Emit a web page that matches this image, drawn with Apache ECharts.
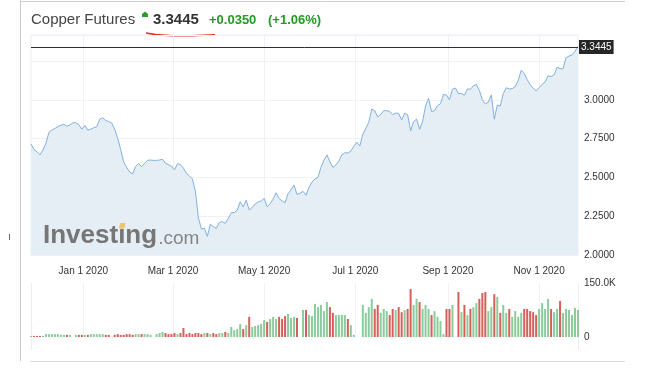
<!DOCTYPE html>
<html><head><meta charset="utf-8">
<script src="https://cdn.jsdelivr.net/npm/echarts@6/dist/echarts.min.js"></script>
<style>html,body{margin:0;padding:0;background:#fff}#c{width:659px;height:373px}</style>
</head><body><div id="c"></div>
<script>
const titleText = 'Copper Futures';
const lastPriceText = '3.3445';
const changeText = '+0.0350';
const changePctText = '(+1.06%)';
const watermarkMain = 'Investing';
const watermarkSub = '.com';
const startDate = '2019-11-27';
const endDate = '2020-11-27';
const sampleStepDays = 2;
const labelDates = ['2020-01-01','2020-03-01','2020-05-01','2020-07-01','2020-09-01','2020-11-01'];
const priceTickLabels = [2.0, 2.25, 2.5, 2.75, 3.0];
const volumeTickLabels = [0, 150000];
const lastPrice = 3.3445;

const priceValues = [
 2.715,2.68,2.666,2.645,2.677,2.72,2.79,2.805,2.815,2.828,
 2.836,2.842,2.83,2.838,2.852,2.852,2.84,2.81,2.835,2.805,
 2.81,2.82,2.827,2.875,2.884,2.867,2.86,2.85,2.81,2.752,
 2.68,2.6,2.565,2.535,2.522,2.57,2.59,2.569,2.59,2.61,
 2.612,2.609,2.61,2.612,2.617,2.591,2.582,2.572,2.548,2.588,
 2.582,2.56,2.525,2.51,2.49,2.41,2.24,2.168,2.172,2.12,
 2.198,2.182,2.172,2.21,2.215,2.204,2.235,2.273,2.273,2.29,
 2.343,2.31,2.354,2.29,2.307,2.329,2.342,2.348,2.365,2.311,
 2.33,2.36,2.401,2.365,2.348,2.337,2.395,2.42,2.45,2.39,
 2.398,2.41,2.385,2.435,2.47,2.49,2.5,2.565,2.61,2.645,
 2.601,2.565,2.58,2.605,2.645,2.659,2.657,2.67,2.7,2.727,
 2.702,2.776,2.815,2.855,2.94,2.93,2.89,2.906,2.93,2.93,
 2.925,2.905,2.914,2.912,2.87,2.913,2.905,2.80,2.859,2.876,
 2.81,2.86,2.96,3.01,2.925,2.93,2.962,2.975,3.035,3.03,
 3.0,3.068,3.076,3.04,3.04,3.03,3.07,3.068,3.09,3.1,
 3.06,3.0,2.973,2.985,3.032,2.875,2.966,2.96,3.04,3.078,
 3.07,3.072,3.085,3.125,3.19,3.17,3.13,3.097,3.075,3.057,
 3.078,3.1,3.115,3.155,3.15,3.16,3.21,3.2,3.2,3.27,
 3.282,3.29,3.312,3.3445
];

const volumeK = [
 3,3,3,3,3,8,8,8,8,8,
 6,6,6,6,0,6,6,6,6,6,
 8,8,8,8,8,6,6,0,6,8,
 6,6,8,8,6,8,8,8,8,8,
 6,0,8,11,14,11,8,8,11,8,
 11,25,8,11,8,11,11,8,11,11,
 8,11,8,11,11,14,11,28,19,22,
 36,22,33,56,28,31,33,36,47,42,
 50,56,50,56,50,58,64,53,56,53,
 0,75,75,61,58,92,83,89,72,97,
 83,67,61,61,61,61,50,33,6,0,
 0,89,67,83,106,78,89,67,78,72,
 61,78,75,83,69,75,78,133,89,106,
 97,78,89,78,61,72,56,44,8,78,
 78,89,0,125,69,89,61,78,83,94,
 106,122,125,72,83,119,111,67,89,67,
 78,56,72,56,67,78,78,72,69,61,
 78,94,78,106,78,69,78,100,67,78,
 75,61,81,75
];

const FONT = '"Liberation Sans", Arial, sans-serif';
const UP = '#8ccb9b', DOWN = '#d65f5a';
const MONTHS = ['Jan','Feb','Mar','Apr','May','Jun','Jul','Aug','Sep','Oct','Nov','Dec'];

const categories = [];
for (let t = Date.parse(startDate + 'T00:00:00Z'); t <= Date.parse(endDate + 'T00:00:00Z'); t += 86400000) {
  categories.push(new Date(t).toISOString().slice(0, 10));
}
const isLabelDay = (idx, val) => labelDates.indexOf(val) >= 0;
const fmtDate = (val) => {
  const p = val.split('-');
  return MONTHS[+p[1] - 1] + ' ' + (+p[2]) + ' ' + p[0];
};

const priceData = priceValues.map((v, i) => [i * sampleStepDays, v]);
const volumeData = volumeK.map((v, i) => ({
  value: [i * sampleStepDays, v * 1000],
  itemStyle: { color: (i === 0 || priceValues[i] >= priceValues[i - 1]) ? UP : DOWN }
}));

// watermark text metrics
const wmFontMain = 'bold 26px ' + FONT, wmFontSub = '19px ' + FONT;
const mctx = document.createElement('canvas').getContext('2d');
mctx.font = wmFontMain;
const wmX = 43;
const wmMainW = mctx.measureText(watermarkMain).width;
const wmIX = wmX + mctx.measureText('Invest').width + mctx.measureText('i').width / 2;

const chart = echarts.init(document.getElementById('c'), null, { renderer: 'canvas' });
const gridLine = '#eff1f4';
chart.setOption({
  animation: false,
  backgroundColor: '#fff',
  grid: [
    { left: 31, right: 81, top: 35, height: 220, show: true, borderColor: '#e9edf2', borderWidth: 1 },
    { left: 31, right: 81, top: 283, height: 54 }
  ],
  xAxis: [
    { type: 'category', gridIndex: 0, data: categories, boundaryGap: false,
      axisLine: { show: false }, axisTick: { show: false },
      axisLabel: { interval: isLabelDay, formatter: fmtDate, color: '#333', fontSize: 10, fontFamily: FONT, margin: 11 },
      splitLine: { show: true, interval: isLabelDay, lineStyle: { color: gridLine } } },
    { type: 'category', gridIndex: 1, data: categories, boundaryGap: false,
      axisLine: { show: false }, axisTick: { show: false }, axisLabel: { show: false },
      splitLine: { show: true, interval: isLabelDay, lineStyle: { color: gridLine } } }
  ],
  yAxis: [
    { type: 'value', gridIndex: 0, position: 'right', min: 2, max: 3.4175, interval: 0.25,
      axisLine: { show: false }, axisTick: { show: false },
      axisLabel: { color: '#333', fontSize: 10, fontFamily: FONT, margin: 6,
        formatter: v => priceTickLabels.some(t => Math.abs(t - v) < 1e-6) ? v.toFixed(4) : '' },
      splitLine: { show: true, lineStyle: { color: gridLine } } },
    { type: 'value', gridIndex: 1, position: 'right', min: 0, max: 150000, interval: 150000,
      axisLine: { show: false }, axisTick: { show: false },
      axisLabel: { color: '#333', fontSize: 10, fontFamily: FONT, margin: 6,
        formatter: v => volumeTickLabels.indexOf(v) < 0 ? '' : (v === 0 ? '0' : (v / 1000).toFixed(1) + 'K') },
      splitLine: { show: false } }
  ],
  series: [
    { type: 'line', xAxisIndex: 0, yAxisIndex: 0, data: priceData, symbol: 'none',
      lineStyle: { color: '#80b1dd', width: 1 }, areaStyle: { color: '#e6eef5', opacity: 1 },
      markLine: { silent: true, symbol: ['none', 'none'], animation: false,
        lineStyle: { color: '#2e2e2e', width: 1, type: 'solid' },
        label: { show: true, position: 'end', distance: 1, formatter: lastPriceText, color: '#fff',
          backgroundColor: '#262626', padding: [2, 2, 2, 2], fontSize: 10, fontFamily: FONT },
        data: [{ yAxis: lastPrice }] } },
    { type: 'bar', xAxisIndex: 1, yAxisIndex: 1, data: volumeData, barWidth: 2 }
  ],
  graphic: [
    { type: 'line', shape: { x1: 20.5, y1: 0, x2: 20.5, y2: 361 }, style: { stroke: '#c9c9c9', lineWidth: 1 } },
    { type: 'line', shape: { x1: 20, y1: 1.5, x2: 625, y2: 1.5 }, style: { stroke: '#cfcfcf', lineWidth: 1 } },
    { type: 'line', shape: { x1: 30, y1: 361.5, x2: 625, y2: 361.5 }, style: { stroke: '#dcdcdc', lineWidth: 1 } },
    { type: 'line', shape: { x1: 9.5, y1: 234, x2: 9.5, y2: 240 }, style: { stroke: '#666', lineWidth: 1 } },
    { type: 'line', shape: { x1: 31.5, y1: 283, x2: 31.5, y2: 350 }, style: { stroke: '#e9edf2', lineWidth: 1 } },
    { type: 'line', shape: { x1: 578.5, y1: 283, x2: 578.5, y2: 350 }, style: { stroke: '#e9edf2', lineWidth: 1 } },
    { type: 'text', x: 31, y: 20, style: { text: titleText, fill: '#444', font: '15px ' + FONT, verticalAlign: 'middle' } },
    { type: 'polygon', shape: { points: [[145, 11.5], [148, 14], [148, 17], [142, 17], [142, 14]] }, style: { fill: '#2a9d2a' } },
    { type: 'text', x: 153, y: 20, style: { text: lastPriceText, fill: '#333', font: 'bold 15px ' + FONT, verticalAlign: 'middle' } },
    { type: 'text', x: 209, y: 20, style: { text: changeText, fill: '#239b22', font: 'bold 13px ' + FONT, verticalAlign: 'middle' } },
    { type: 'text', x: 268, y: 20, style: { text: changePctText, fill: '#239b22', font: 'bold 13px ' + FONT, verticalAlign: 'middle' } },
    { type: 'polyline', shape: { points: [[146, 33], [156, 34.6], [172, 35.8], [192, 35.8], [215, 34.8]] }, style: { stroke: '#e4312b', lineWidth: 1.6, fill: null } },
    { type: 'text', z: 100, x: wmX, y: 236, style: { text: watermarkMain, fill: '#767676', font: wmFontMain, verticalAlign: 'middle' } },
    { type: 'text', z: 100, x: wmX + wmMainW + 1, y: 238.5, style: { text: watermarkSub, fill: '#858585', font: wmFontSub, verticalAlign: 'middle' } },
    { type: 'polygon', z: 101, shape: { points: [[wmIX - 3, 228.5], [wmIX + 2.5, 228.5], [wmIX + 4, 223], [wmIX - 1.5, 223]] }, style: { fill: '#f1c36c' } }
  ]
});
</script>
</body></html>
